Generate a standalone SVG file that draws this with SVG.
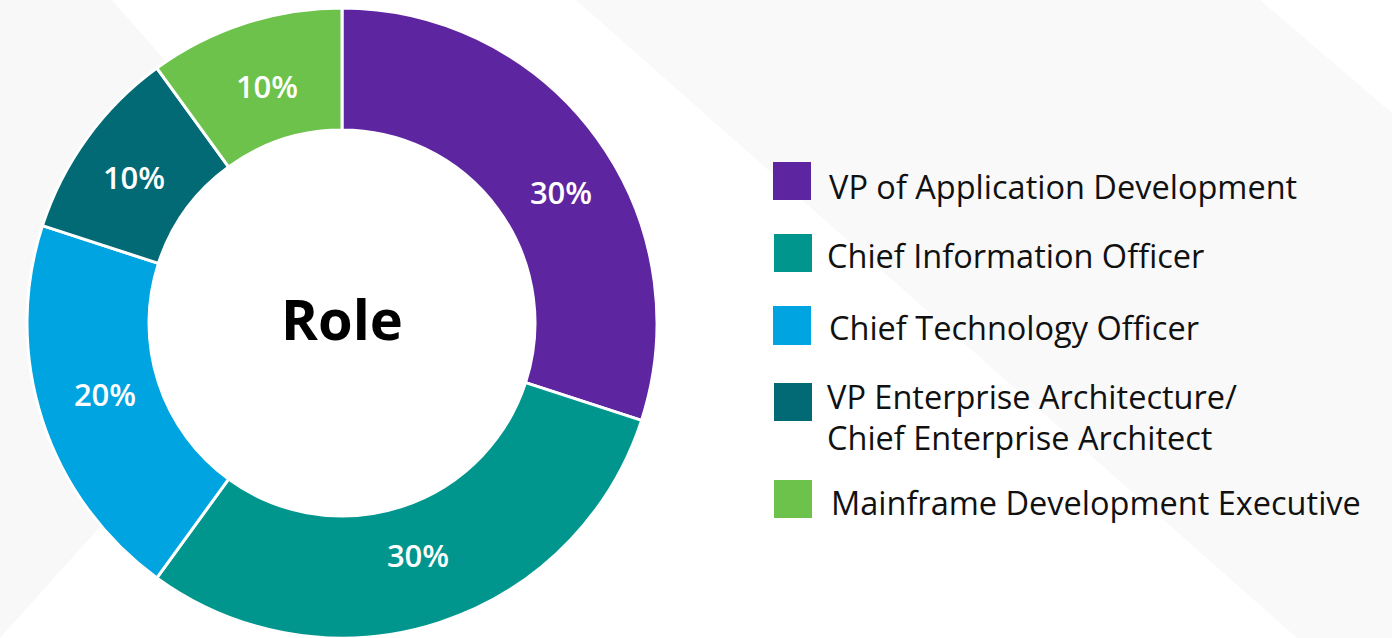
<svg xmlns="http://www.w3.org/2000/svg" width="1392" height="638" viewBox="0 0 1392 638">
<style>
.seg{stroke:#fff;stroke-width:3;stroke-linejoin:miter}
.pct{font-family:"Open Sans","Noto Sans",sans-serif;font-size:31px;font-weight:600;fill:#fff;text-anchor:middle}
.lg{font-family:"Open Sans","Noto Sans",sans-serif;font-size:32.5px;fill:#111}
</style>
<rect width="1392" height="638" fill="#ffffff"/>
<polygon points="576,0 1260,0 1392,113 1392,638 1297,638" fill="#f9f9f9"/>
<polygon points="0,0 112,0 340,260 0,638" fill="#f8f8f8"/>
<g id="chart">
<g id="seg-vp-app"><path class="seg" fill="#5E25A0" d="M342,8 A315,315 0 0 1 641.58,420.34 L525.55,382.64 A193,193 0 0 0 342,130 Z"/><text class="pct" x="561" y="204">30%</text></g>
<g id="seg-cio"><path class="seg" fill="#00968D" d="M641.58,420.34 A315,315 0 0 1 156.85,577.84 L228.56,479.14 A193,193 0 0 0 525.55,382.64 Z"/><text class="pct" x="418" y="567">30%</text></g>
<g id="seg-cto"><path class="seg" fill="#00A4E0" d="M156.85,577.84 A315,315 0 0 1 42.42,225.66 L158.45,263.36 A193,193 0 0 0 228.56,479.14 Z"/><text class="pct" x="105" y="406">20%</text></g>
<g id="seg-vp-ea"><path class="seg" fill="#026A75" d="M42.42,225.66 A315,315 0 0 1 156.85,68.16 L228.56,166.86 A193,193 0 0 0 158.45,263.36 Z"/><text class="pct" x="134" y="189">10%</text></g>
<g id="seg-mf"><path class="seg" fill="#6CC24B" d="M156.85,68.16 A315,315 0 0 1 342,8 L342,130 A193,193 0 0 0 228.56,166.86 Z"/><text class="pct" x="267" y="98">10%</text></g>
<circle cx="342" cy="323" r="191.5" fill="#ffffff"/>
<text id="title" x="342" y="340" font-family="'Open Sans','Noto Sans',sans-serif" font-size="56" font-weight="700" fill="#000" text-anchor="middle">Role</text>
</g>
<g id="legend">
<g id="lg-vp-app"><rect x="773" y="162" width="38" height="38" fill="#5E25A0"/><text class="lg" x="829" y="199">VP of Application Development</text></g>
<g id="lg-cio"><rect x="774" y="234" width="38" height="38" fill="#00968D"/><text class="lg" x="827" y="268">Chief Information Officer</text></g>
<g id="lg-cto"><rect x="773" y="306" width="38" height="39" fill="#00A4E0"/><text class="lg" x="829" y="340">Chief Technology Officer</text></g>
<g id="lg-vp-ea"><rect x="774" y="383" width="38" height="38" fill="#026A75"/><text class="lg" x="827" y="409">VP Enterprise Architecture/</text><text class="lg" x="827" y="450">Chief Enterprise Architect</text></g>
<g id="lg-mf"><rect x="774" y="480" width="38" height="38" fill="#6CC24B"/><text class="lg" x="831" y="515">Mainframe Development Executive</text></g>
</g>
<g id="connectors"/>
</svg>
